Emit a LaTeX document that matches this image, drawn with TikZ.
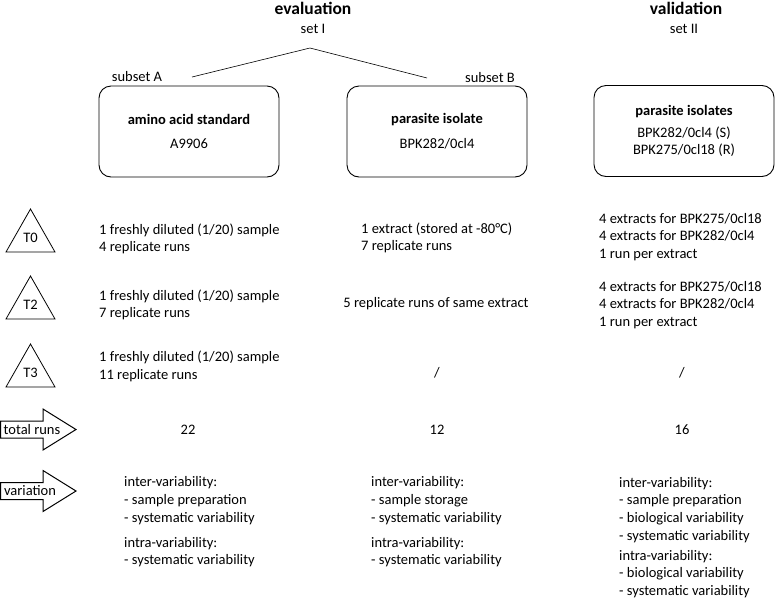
\documentclass[tikz,border=0pt]{standalone}
\usepackage{fontspec}
\setmainfont{Carlito}
\usetikzlibrary{positioning}

\tikzset{
  txt/.style={inner sep=0pt, font=\fontsize{14.5}{17.7}\selectfont},
  lefttxt/.style={txt, anchor=west, align=left},
  head/.style={inner sep=0pt, font=\fontsize{17.5}{21}\selectfont\bfseries},
  probe/.style={draw, line width=0.9pt, rounded corners=12pt, minimum width=180pt,
    minimum height=91pt, inner sep=0pt, align=center, font=\fontsize{14.5}{17.7}\selectfont},
  zeit/.style={draw, line width=0.8pt},
  pfeil/.style={draw, line width=1pt}
}

\begin{document}
\begin{tikzpicture}[x=1pt,y=-1pt]
  \useasboundingbox (0,0) rectangle (775,603);

  % Kopf
  \node[head] (eval) at (313,8) {evaluation};
  \node[txt] (setI) at (313,29) {set I};
  \node[head] (valid) at (686,8) {validation};
  \node[txt] (setII) at (684,29) {set II};
  \node[txt] (subA) at (137,77) {subset A};
  \node[txt] (subB) at (490,78) {subset B};
  \coordinate (split) at (310,48);
  \coordinate (endA) at (192,77);
  \coordinate (endB) at (427,78);
  \draw[line width=0.6pt] (endA) -- (split) -- (endB);

  \node[probe] (stdA) at (189,131.5) {\textbf{amino acid standard}\\[7pt]A9906};
  \node[probe] (isoB) at (437,131.5) {\textbf{parasite isolate}\\[7pt]BPK282/0cl4};
  \node[probe] (isoC) at (684,131) {\textbf{parasite isolates}\\[4pt]BPK282/0cl4 (S)\\BPK275/0cl18 (R)};

  % Zeitpunkte
  \foreach \y/\t in {209/T0, 276/T2, 344/T3} {
    \draw[zeit] (6,{\y+43}) -- (30.5,\y) -- (55,{\y+43}) -- cycle;
    \node[txt] (\t) at (30.5,{\y+29}) {\t};
  }

  \node[lefttxt] (a0) at (99,239) {1 freshly diluted (1/20) sample\\4 replicate runs};
  \node[lefttxt] (b0) at (361,238) {1 extract (stored at -80°C)\\7 replicate runs};
  \node[lefttxt] (c0) at (599,237) {4 extracts for BPK275/0cl18\\4 extracts for BPK282/0cl4\\1 run per extract};

  \node[lefttxt] (a2) at (99,305) {1 freshly diluted (1/20) sample\\7 replicate runs};
  \node[txt] (b2) at (436,304) {5 replicate runs of same extract};
  \node[lefttxt] (c2) at (599,305) {4 extracts for BPK275/0cl18\\4 extracts for BPK282/0cl4\\1 run per extract};

  \node[lefttxt] (a3) at (99,366.5) {1 freshly diluted (1/20) sample\\11 replicate runs};
  \node[txt] (b3) at (437,373) {/};
  \node[txt] (c3) at (682,373) {/};

  % Pfeile
  \foreach \c/\n/\t/\m in {429.5/runs/total runs/32, 491/var/variation/30} {
    \draw[pfeil] (0.6,{\c-8.5}) -- (43,{\c-8.5}) -- (43,{\c-20.5}) -- (76,\c)
      -- (43,{\c+20.5}) -- (43,{\c+8.5}) -- (0.6,{\c+8.5}) -- cycle;
    \node[txt] (\n) at (\m,\c) {\t};
  }

  \node[txt] (a4) at (188,430) {22};
  \node[txt] (b4) at (437,430) {12};
  \node[txt] (c4) at (682,430) {16};

  \node[lefttxt] (a5) at (124,522) {inter-variability:\\- sample preparation\\- systematic variability\\[7pt]intra-variability:\\- systematic variability};
  \node[lefttxt] (b5) at (371,522) {inter-variability:\\- sample storage\\- systematic variability\\[7pt]intra-variability:\\- systematic variability};
  \node[lefttxt] (c5) at (619,537.5) {inter-variability:\\- sample preparation\\- biological variability\\- systematic variability\\[2.3pt]intra-variability:\\- biological variability\\- systematic variability};
\end{tikzpicture}
\end{document}
